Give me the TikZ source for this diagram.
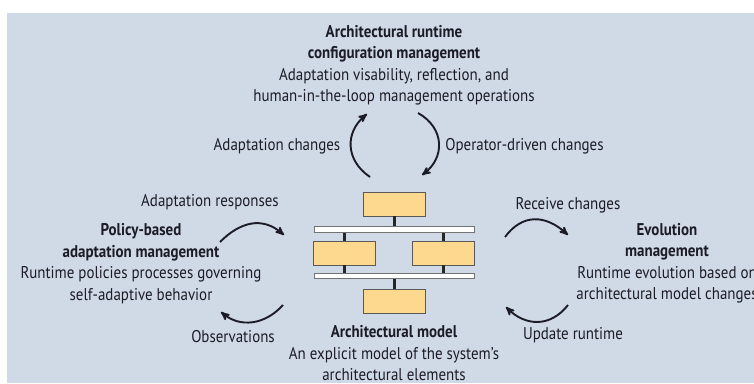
\documentclass[tikz,border=0pt]{standalone}
\usepackage{fontspec}
\setmainfont{PT Sans}[FakeStretch=0.88]
\usepackage{tikz}
\usetikzlibrary{arrows}

\definecolor{bgblue}{RGB}{208,218,230}
\definecolor{boxorange}{RGB}{253,216,143}
\definecolor{ink}{RGB}{28,28,38}

\begin{document}
\begin{tikzpicture}[x=1pt,y=-1pt,>=stealth',
    txt/.style={text=ink,font=\fontsize{17}{21.5}\selectfont,align=center,inner sep=0pt},
    part/.style={draw=black!65,fill=boxorange,line width=0.9pt,minimum width=62pt,minimum height=24pt,inner sep=0pt},
    bus/.style={draw=black!55,fill=white,line width=0.9pt,minimum width=160pt,minimum height=5.5pt,inner sep=0pt},
    link/.style={line width=2.6pt,draw=black!85},
    flow/.style={->,line width=1.9pt,draw=ink}]
  \useasboundingbox (0,0) rectangle (754,383);
  \fill[bgblue] (7,13) rectangle (754,383);

  % architectural model
  \node[part] (top)   at (394.5,204) {};
  \node[bus]  (bus1)  at (394,229.5) {};
  \node[part] (left)  at (344.5,253) {};
  \node[part] (right) at (443.5,253) {};
  \node[bus]  (bus2)  at (394,276) {};
  \node[part] (bot)   at (394.5,301) {};

  \path[link] (top.south) edge (top.south |- bus1.north)
              (left.north) edge (left.north |- bus1.south)
              (right.north) edge (right.north |- bus1.south)
              (left.south) edge (left.south |- bus2.north)
              (right.south) edge (right.south |- bus2.north)
              (bot.north) edge (bot.north |- bus2.south);

  % text blocks
  \node[txt] (config) at (394,65.5) {\textbf{Architectural runtime}\\\textbf{configuration management}\\Adaptation visability, reflection, and\\human-in-the-loop management operations};
  \node[txt] (policy) at (141,263.5) {\textbf{Policy-based}\\\textbf{adaptation management}\\Runtime policies processes governing\\self-adaptive behavior};
  \node[txt] (evol)   at (667,263.5) {\textbf{Evolution}\\\textbf{management}\\Runtime evolution based on\\architectural model changes};
  \node[txt] (model)  at (394,353.5) {\textbf{Architectural model}\\An explicit model of the system’s\\architectural elements};

  % labels
  \node[txt] (adch)  at (277,146) {Adaptation changes};
  \node[txt] (opch)  at (524.5,146) {Operator-driven changes};
  \node[txt] (adres) at (210,202) {Adaptation responses};
  \node[txt] (obs)   at (233,337) {Observations};
  \node[txt] (recv)  at (568,205) {Receive changes};
  \node[txt] (upd)   at (573,335) {Update runtime};

  % arrow ends
  \coordinate (a1) at (370,177); \coordinate (a2) at (367,114);
  \coordinate (b1) at (418,113); \coordinate (b2) at (422,175);
  \coordinate (c1) at (220,242); \coordinate (c2) at (284,235);
  \coordinate (d1) at (283,305); \coordinate (d2) at (221,312);
  \coordinate (e1) at (505,237); \coordinate (e2) at (568,235);
  \coordinate (f1) at (568,305); \coordinate (f2) at (506,307);

  \draw[flow] (a1) .. controls (345,160) and (345,132) .. (a2);
  \draw[flow] (b1) .. controls (445,128) and (445,158) .. (b2);
  \draw[flow] (c1) .. controls (240,222) and (262,216) .. (c2);
  \draw[flow] (d1) .. controls (265,325) and (240,328) .. (d2);
  \draw[flow] (e1) .. controls (522,214) and (545,214) .. (e2);
  \draw[flow] (f1) .. controls (550,328) and (525,326) .. (f2);
\end{tikzpicture}
\end{document}
